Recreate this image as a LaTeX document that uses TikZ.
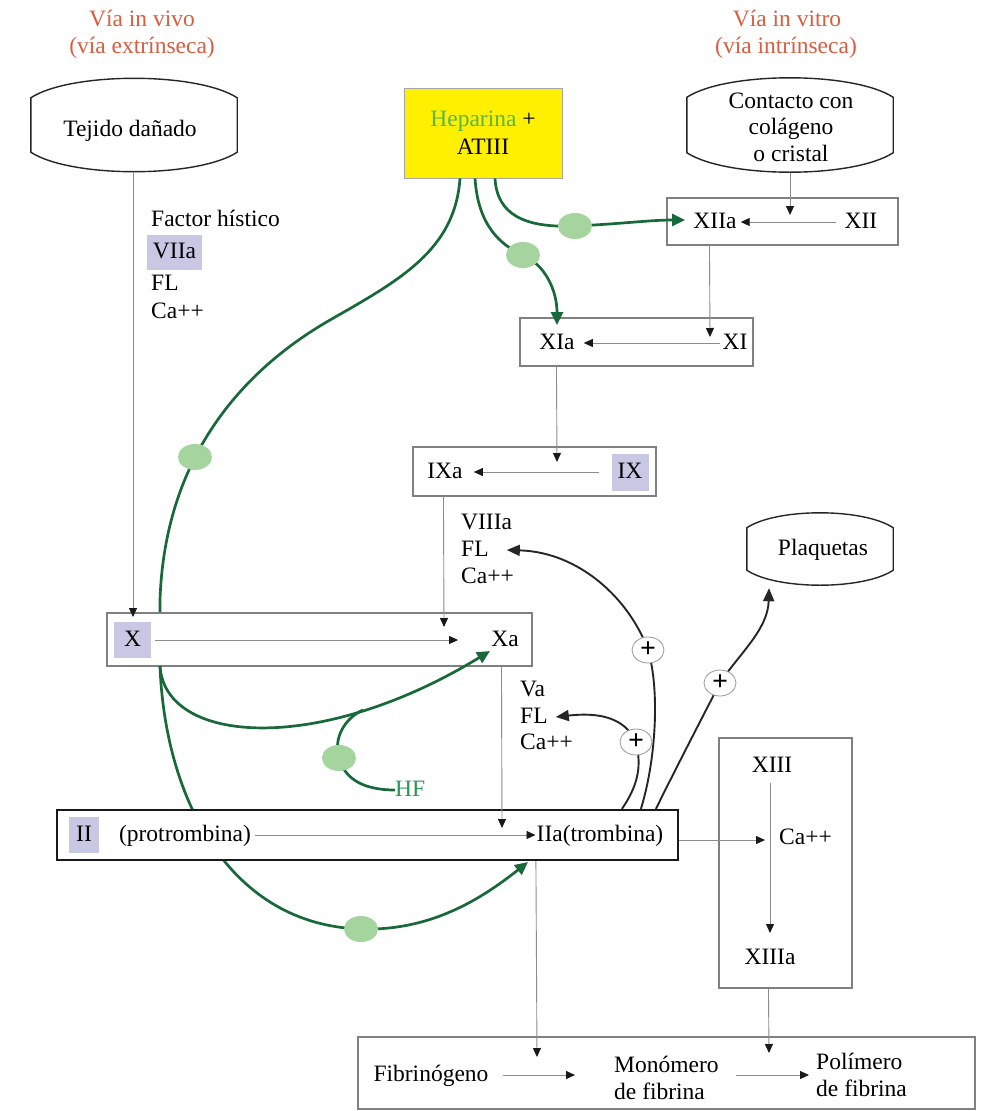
\documentclass[tikz,border=0pt]{standalone}
\usepackage{fontspec}
\setmainfont{Liberation Serif}
\usetikzlibrary{arrows.meta,shapes.geometric,calc}
\definecolor{greenline}{RGB}{24,105,58}
\definecolor{inhgreen}{RGB}{165,212,158}
\definecolor{hepgreen}{RGB}{90,180,70}
\definecolor{hfgreen}{RGB}{40,150,85}
\definecolor{lavcol}{RGB}{200,200,228}
\definecolor{hepyellow}{RGB}{255,240,0}
\definecolor{titlecol}{RGB}{215,95,65}
\newcommand\termoutline[3]{%
  \draw[termline] (#1.north west) -- (#1.south west)
    .. controls ($(#1.south west)+(#3,#2)$) and ($(#1.south east)+(-#3,#2)$) .. (#1.south east)
    -- (#1.north east)
    .. controls ($(#1.north east)+(-#3,-#2)$) and ($(#1.north west)+(#3,-#2)$) .. (#1.north west) -- cycle;}
\begin{document}
\begin{tikzpicture}[x=1pt,y=-1pt,
  every node/.style={inner sep=0pt, font=\fontsize{23.5}{26.5}\selectfont},
  lbl/.style={text height=17pt, text depth=4pt},
  ttl/.style={lbl, text=titlecol},
  termnode/.style={draw=none},
  termline/.style={draw=black!85, line width=1.4pt},
  stdbox/.style={draw=black!50, line width=1.1pt, fill=white, rectangle},
  lavbox/.style={lbl, fill=lavcol},
  tarrow/.style={draw=black!45, line width=0.9pt, -{Triangle[length=9pt,width=8pt,color=black!90]}},
  bline/.style={draw=black!85, line width=1.9pt, -{Triangle[length=13pt,width=11pt]}},
  gline/.style={draw=greenline, line width=2.7pt},
  garr/.style={gline, -{Triangle[length=13pt,width=12pt]}},
  inhnode/.style={ellipse, fill=inhgreen, minimum width=34pt, minimum height=26pt},
  plusnode/.style={ellipse, draw=black!40, line width=0.8pt, fill=white, minimum width=32pt, minimum height=26pt, font=\fontsize{28}{28}\selectfont\bfseries}
]
\useasboundingbox (0,0) rectangle (990,1111);
\fill[white] (0,0) rectangle (990,1111);

% titles
\node[ttl] (t1) at (142,20) {Vía in vivo};
\node[ttl] (t2) at (142,47) {(vía extrínseca)};
\node[ttl] (t3) at (787,20) {Vía in vitro};
\node[ttl] (t4) at (786,47) {(vía intrínseca)};

% terminal shapes
\node[termnode, minimum width=206pt, minimum height=54pt] (tej) at (134,125) {};
\termoutline{tej}{26}{40}
\node[lbl] (tejT) at (130,130) {Tejido dañado};

\node[termnode, minimum width=206pt, minimum height=55pt] (con) at (790,125) {};
\termoutline{con}{26}{40}
\node[align=center] (conT) at (791,127) {Contacto con\\colágeno\\o cristal};

\node[termnode, minimum width=146pt, minimum height=42pt] (plq) at (820,549) {};
\termoutline{plq}{20}{30}
\node[lbl] (plqT) at (823,549) {Plaquetas};

% heparina
\node[draw=black!35, line width=0.8pt, fill=hepyellow, minimum width=158pt, minimum height=90pt,
      align=center, font=\fontsize{23.5}{28}\selectfont] (hep) at (483,133)
      {{\color{hepgreen}Heparina} +\\ATIII};

% left text column
\node[lbl, anchor=west] (fh) at (151,220) {Factor hístico};
\node[lavbox, minimum width=55pt, minimum height=35pt] (vii) at (174.5,252) {VIIa};
\node[lbl, anchor=west] (fl7) at (151,284) {FL};
\node[lbl, anchor=west] (ca7) at (151,312) {Ca++};

% XII, XI, IX boxes
\node[stdbox, minimum width=231pt, minimum height=47pt] (xii) at (782.5,221.5) {};
\node[lbl] (xiiaT) at (715,222) {XIIa};
\node[lbl] (xiiT) at (861,222) {XII};

\node[stdbox, minimum width=233pt, minimum height=48pt] (xi) at (636.5,342) {};
\node[lbl] (xiaT) at (557,343) {XIa};
\node[lbl] (xiT) at (735,343) {XI};

\node[stdbox, minimum width=243pt, minimum height=49pt] (ix) at (534.5,471.5) {};
\node[lbl] (ixaT) at (445,472) {IXa};
\node[lavbox, minimum width=37pt, minimum height=37pt] (ixT) at (630,472) {IX};

\node[lbl, anchor=west] (v8) at (461,523) {VIIIa};
\node[lbl, anchor=west] (fl8) at (461,550) {FL};
\node[lbl, anchor=west] (ca8) at (461,577) {Ca++};

\node[lbl, anchor=west] (v5) at (520,690) {Va};
\node[lbl, anchor=west] (fl5) at (520,717) {FL};
\node[lbl, anchor=west] (ca5) at (520,743) {Ca++};

\node[lbl, anchor=west, text=hfgreen] (hfT) at (395,790) {HF};

% green curve from heparina to X (passes behind X box)
\coordinate (xj) at (160,666);
\draw[gline] ($(hep.south)+(-23,0)$) .. controls (455,250) and (400,280) .. (330,320)
  .. controls (250,366) and (165,450) .. (160,600) -- (xj);

% X box
\node[stdbox, minimum width=425pt, minimum height=53pt] (x) at (319.5,639.5) {};
\node[lavbox, minimum width=37pt, minimum height=36pt] (xT) at (132.5,640) {X};
\node[lbl] (xaT) at (505,640) {Xa};

% green curves below X
\coordinate (xaarr) at (490,651);
\coordinate (iiarr) at (528,862);
\coordinate (hfj) at (363,710);
\draw[garr] (xj) .. controls (165,745) and (320,755) .. (xaarr);
\draw[gline] (hfT.west) .. controls (365,790) and (345,780) .. (339,758)
  .. controls (333,738) and (345,718) .. (hfj);
\draw[garr] (xj) .. controls (165,800) and (230,925) .. (361,929)
  .. controls (430,931) and (480,900) .. (iiarr);

% II box
\node[draw=black!90, line width=2.2pt, fill=white, minimum width=621pt, minimum height=50pt] (ii) at (367.5,835) {};
\node[lavbox, minimum width=30pt, minimum height=36pt] (iiT) at (84,835) {II};
\node[lbl] (protT) at (185,835) {(protrombina)};
\node[lbl] (iiaT) at (600,835) {IIa(trombina)};

% XIII box
\node[stdbox, minimum width=133pt, minimum height=250pt] (xiii) at (785.5,863) {};
\node[lbl] (xiiiT) at (772,766) {XIII};
\node[lbl, anchor=west] (ca13) at (779,838) {Ca++};
\node[lbl] (xiiiaT) at (770,958) {XIIIa};

% fibrin box
\node[stdbox, minimum width=617pt, minimum height=72pt] (fb) at (666.5,1073) {};
\node[lbl] (fib) at (431,1075) {Fibrinógeno};
\node[anchor=west, align=left] (mon) at (614,1078) {Monómero\\de fibrina};
\node[anchor=west, align=left] (pol) at (816,1075) {Polímero\\de fibrina};

% green curves from heparina to XIa and XIIa
\coordinate (xiarr) at (557,325);
\coordinate (xiiarr) at (685,220);
\draw[garr] ($(hep.south)+(-8,0)$) .. controls (478,225) and (500,245) .. (523,255)
  .. controls (545,265) and (557,290) .. (xiarr);
\draw[garr] ($(hep.south)+(12,0)$) .. controls (497,215) and (525,228) .. (575,226)
  .. controls (620,224) and (650,220) .. (xiiarr);

% thin arrows
\coordinate (xtop) at (133,617);
\coordinate (conarr) at (790,215);
\coordinate (xiitip) at (710,337);
\coordinate (ixtip) at (557,462);
\coordinate (xtip) at (444,627);
\coordinate (iitip) at (502,828);
\coordinate (xiiitip) at (765,840);
\coordinate (xiiiatip) at (770,933);
\coordinate (fb1) at (537,1057);
\coordinate (fb2) at (769,1053);
\draw[tarrow] ($(tej.south)+(-1,20)$) -- (xtop);
\draw[tarrow] ($(con.south)+(0,20)$) -- (conarr);
\draw[tarrow] ([xshift=-8pt]xiiT.west) -- ([xshift=4pt]xiiaT.east);
\draw[tarrow] ($(xii.south west)+(43,0)$) -- (xiitip);
\draw[tarrow] ([xshift=-2pt]xiT.west) -- ([xshift=9pt]xiaT.east);
\draw[tarrow] ($(xi.south west)+(37,0)$) -- (ixtip);
\draw[tarrow] ([xshift=-12pt]ixT.west) -- ([xshift=11pt]ixaT.east);
\draw[tarrow] ($(ix.south west)+(31,0)$) -- (xtip);
\draw[tarrow] ([xshift=4pt]xT.east) -- ([xshift=-33pt]xaT.west);
\draw[tarrow] ($(x.south west)+(395,0)$) -- (iitip);
\draw[tarrow] ([xshift=4pt]protT.east) -- ([xshift=-1pt]iiaT.west);
\draw[tarrow] ($(ii.east)+(0,5)$) -- (xiiitip);
\draw[tarrow] ($(xiiiT.south)+(-2,6)$) -- (xiiiatip);
\draw[tarrow] ($(ii.south west)+(480,0)$) -- (fb1);
\draw[tarrow] ($(xiii.south west)+(50,0)$) -- (fb2);
\draw[tarrow] ([xshift=14pt]fib.east) -- ($(fib.east -| mon.west)+(-39,0)$);
\draw[tarrow] ($(fib.east -| pol.west)+(-80,0)$) -- ($(fib.east -| pol.west)+(-7,0)$);

% black activation curves
\draw[bline] ($(ii.north west)+(585,0)$) .. controls (656,760) and (660,690) .. (648,650)
  .. controls (630,600) and (580,552) .. ([xshift=18pt]fl8.east);
\draw[bline] ($(ii.north west)+(566,0)$) .. controls (642,780) and (640,760) .. (636,742)
  .. controls (625,718) and (600,712) .. ([xshift=8pt]fl5.east);
\draw[bline] ($(ii.north west)+(600,0)$) .. controls (675,770) and (705,712) .. (720,683)
  .. controls (738,655) and (768,630) .. ($(plq.south)+(-51,18)$);

% inhibition ellipses
\node[inhnode] (e1) at (195,457) {};
\node[inhnode] (e2) at (523,255) {};
\node[inhnode] (e3) at (575,226) {};
\node[inhnode] (e4) at (339,758) {};
\node[inhnode] (e5) at (361,929) {};

% plus nodes
\node[plusnode] (p1) at (648,650) {+};
\node[plusnode] (p2) at (636,742) {+};
\node[plusnode] (p3) at (720,683) {+};
\end{tikzpicture}
\end{document}
